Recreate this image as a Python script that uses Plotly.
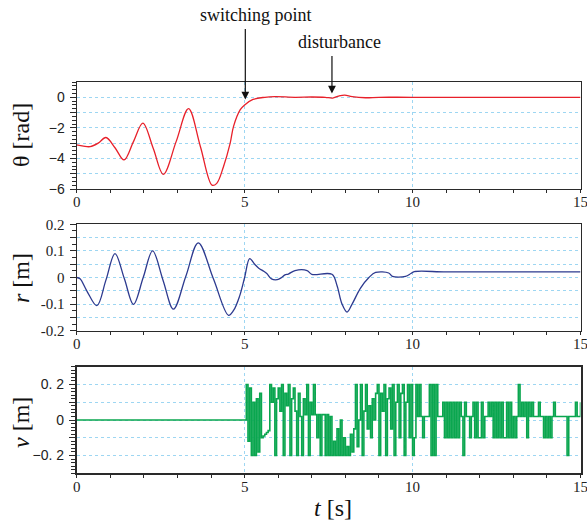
import plotly.graph_objects as go

# ---------------- data ----------------
theta_t = [0, 0.2, 0.4, 0.64, 0.87, 1.14, 1.41, 1.69, 1.97, 2.28, 2.58, 2.96, 3.33, 3.68, 4.03,
           4.17, 4.37, 4.57, 4.67, 4.87, 5.0, 5.25, 5.6, 5.9, 6.5, 7.0, 7.4, 7.62, 7.8, 7.98,
           8.2, 8.6, 9.0, 10.0, 15.0]
theta = [-3.12, -3.2, -3.23, -3.0, -2.63, -3.3, -4.1, -2.9, -1.69, -3.35, -5.04, -2.9, -0.74, -3.2, -5.75,
         -5.63, -4.54, -3.0, -1.9, -0.81, -0.5, -0.14, 0.0, 0.04, 0.0, 0.02, 0.0, -0.05, 0.08, 0.14,
         0.04, -0.03, 0.0, 0.0, 0.0]

r_t = [0, 0.1, 0.3, 0.6, 0.87, 1.14, 1.42, 1.69, 1.98, 2.26, 2.57, 2.88, 3.25, 3.62, 4.07, 4.52,
       4.67, 4.85, 5.0, 5.15, 5.3, 5.42, 5.55, 5.66, 5.8, 5.97, 6.1, 6.2, 6.3, 6.5, 6.86, 7.0,
       7.6, 7.75, 7.9, 8.05, 8.2, 8.45, 8.7, 8.9, 9.29, 9.4, 9.79, 9.95, 10.05, 11.0, 13.0, 15.0]
r = [0, -0.005, -0.05, -0.106, -0.01, 0.09, -0.005, -0.101, 0.0, 0.1, -0.01, -0.119, 0.005, 0.13,
     -0.005, -0.142, -0.124, -0.07, 0.0, 0.071, 0.05, 0.035, 0.025, 0.015, -0.005, -0.008, 0.0,
     0.01, 0.013, 0.026, 0.026, 0.012, 0.012, -0.03, -0.1, -0.13, -0.1, -0.04, 0.0, 0.019, 0.017,
     0.004, 0.004, 0.015, 0.022, 0.021, 0.021, 0.021]

v_pre_t = [0.0, 5.0]
v_pre = [0.0, 0.0]
v_dt = 0.05
v_start = 5.05
v_noisy = [
    0.20, -0.12, 0.18, -0.20, 0.10, -0.20, 0.12, -0.18, 0.15, -0.10,
    -0.09, -0.08, -0.07, -0.06, 0.20, 0.10, 0.18, -0.20, 0.12, 0.18,
    0.05, 0.20, -0.20, 0.15, 0.08, 0.20, -0.20, 0.12, 0.18, 0.05,
    -0.20, 0.15, 0.02, -0.20, 0.12, 0.03, 0.20, -0.20, 0.10, 0.03,
    0.20, 0.03, -0.10, 0.03, -0.20, 0.03, 0.03, -0.20, 0.03, -0.20,
    0.02, -0.20, -0.12, -0.20, -0.05, -0.20, 0.00, -0.20, -0.10, -0.20,
    -0.15, -0.20, -0.08, -0.18, -0.05, 0.20, -0.15, 0.00, 0.20, -0.20,
    0.05, 0.20, -0.05, 0.08, -0.10, 0.12, 0.00, 0.15, 0.20, -0.20,
    0.15, 0.05, 0.20, -0.20, 0.12, 0.18, -0.05, 0.20, -0.20, 0.10,
    0.20, -0.10, 0.15, 0.20, -0.20, 0.10, 0.20, -0.10, 0.20, -0.20,
    -0.10, 0.20, 0.02, 0.20, 0.02, -0.10, 0.02, 0.02, 0.02, 0.20,
    -0.20, 0.20, -0.20, 0.20, 0.02, 0.02, 0.02, 0.10, -0.10, 0.10,
    -0.10, 0.10, -0.10, 0.10, -0.10, 0.10, -0.10, 0.10, 0.02, -0.20,
    0.10, 0.02, 0.02, -0.10, 0.02, 0.10, -0.10, 0.10, -0.10, -0.10,
    0.10, -0.10, 0.02, 0.02, 0.10, 0.02, 0.10, -0.10, 0.10, -0.10,
    0.10, -0.10, 0.10, -0.10, -0.10, 0.10, -0.10, 0.10, -0.10, 0.02,
    -0.10, 0.02, 0.20, 0.02, 0.10, 0.02, 0.10, -0.10, 0.10, 0.02,
    0.10, 0.02, 0.02, 0.02, 0.10, 0.02, 0.02, -0.10, 0.02, -0.10,
    0.02, -0.10, 0.02, 0.10, 0.02, 0.02, 0.02, 0.02, 0.02, 0.02,
    0.02, -0.20, 0.02, 0.02, 0.02, 0.02, 0.10, 0.02, 0.02, 0.10,
]
v_t = v_pre_t + [round(v_start + v_dt * i, 4) for i in range(len(v_noisy))]
v = v_pre + v_noisy

x_tickvals = [0, 5, 10, 15]
x_ticktext = ["0", "5", "10", "15"]
th_tickvals = [-6, -5, -4, -3, -2, -1, 0]
th_ticktext = ["\u22126", "", "\u22124", "", "\u22122", "", "0"]
r_tickvals = [-0.2, -0.15, -0.1, -0.05, 0, 0.05, 0.1, 0.15, 0.2]
r_ticktext = ["-0.2", "", "-0.1", "", "0", "", "0.1", "", "0.2"]
v_tickvals = [-0.2, -0.1, 0, 0.1, 0.2]
v_ticktext = ["\u22120. 2", "", "0", "", "0. 2"]

# ---------------- figure ----------------
W, H = 587, 522
SERIF = "Liberation Serif"
SANS = "Liberation Sans"
GRID = "#9dd6f2"
AX = "#2a2a2a"

def px_x(p):
    return p / W

def px_y(p):
    return (H - p) / H

fig = go.Figure()
fig.add_trace(go.Scatter(x=theta_t, y=theta, mode="lines", line=dict(color="#e8202a", width=1.3, shape="spline", smoothing=1.0), xaxis="x", yaxis="y"))
fig.add_trace(go.Scatter(x=r_t, y=r, mode="lines", line=dict(color="#2d3a8f", width=1.3, shape="spline", smoothing=1.0), xaxis="x2", yaxis="y2"))
fig.add_trace(go.Scatter(x=v_t, y=v, mode="lines", line=dict(color="#0aa64f", width=1.6, shape="hv"), xaxis="x3", yaxis="y3"))

xdom = [px_x(76.7), px_x(580.5)]
doms = [[px_y(189), px_y(82)], [px_y(330.7), px_y(224.3)], [px_y(473.3), px_y(366.7)]]

def xaxis(anchor, lw=1.2):
    return dict(domain=xdom, anchor=anchor, range=[0, 15], tickmode="array", tickvals=x_tickvals,
                ticktext=x_ticktext, ticks="outside", ticklen=3, tickcolor=AX, automargin=False,
                minor=dict(ticks="outside", dtick=1, ticklen=3, tickcolor=AX, showgrid=False),
                showline=True, linecolor=AX, linewidth=lw, mirror=True, ticklabeloverflow="allow",
                showgrid=True, gridcolor=GRID, griddash="dot", gridwidth=1, zeroline=False,
                tickfont=dict(family=SERIF, size=15, color="#222"), ticklabelstandoff=-4)

def yaxis(anchor, dom, rng, tv, tt, mdt, font, size, lw=1.2):
    return dict(domain=dom, anchor=anchor, range=rng, tickmode="array", tickvals=tv, ticktext=tt,
                ticks="outside", ticklen=6, tickcolor=AX, automargin=False,
                minor=dict(ticks="outside", dtick=mdt, ticklen=4, tickcolor=AX, showgrid=False),
                showline=True, linecolor=AX, linewidth=lw, mirror=True, ticklabeloverflow="allow",
                showgrid=True, gridcolor=GRID, griddash="dot", gridwidth=1, zeroline=False,
                tickfont=dict(family=font, size=size, color="#222"), ticklabelstandoff=2)

fig.update_layout(
    width=W, height=H, margin=dict(l=0, r=0, t=0, b=0, autoexpand=False),
    paper_bgcolor="white", plot_bgcolor="white", showlegend=False,
    xaxis=xaxis("y"),
    xaxis2=xaxis("y2"),
    xaxis3=xaxis("y3", lw=1.6),
    yaxis=yaxis("x", doms[0], [-6, 1], th_tickvals, th_ticktext, 0.25, SANS, 14),
    yaxis2=yaxis("x2", doms[1], [-0.2, 0.2], r_tickvals, r_ticktext, 0.025, SERIF, 15),
    yaxis3=yaxis("x3", doms[2], [-0.3, 0.3], v_tickvals, v_ticktext, 0.02, SANS, 14, lw=1.6),
)

ann = []
def title(text, x, y, angle=-90):
    ann.append(dict(text=text, xref="paper", yref="paper", x=px_x(x), y=px_y(y), showarrow=False,
                    textangle=angle, font=dict(family=SERIF, size=24, color="#111"),
                    xanchor="center", yanchor="middle"))

title("\u03b8 [rad]", 21, 135)
title("<i>r</i> [m]", 21, 278)
title("<i>v</i> [m]", 21, 423)
title("<i>t</i> [s]", 333, 508, angle=0)

ann.append(dict(text="switching point", xref="paper", yref="paper", x=px_x(256), y=px_y(15), showarrow=False,
                font=dict(family=SERIF, size=18, color="#111"), xanchor="center", yanchor="middle"))
ann.append(dict(text="disturbance", xref="paper", yref="paper", x=px_x(339), y=px_y(42), showarrow=False,
                font=dict(family=SERIF, size=18, color="#111"), xanchor="center", yanchor="middle"))
ann.append(dict(text="", x=5.02, y=-0.15, xref="x", yref="y", ax=0, ay=-72, showarrow=True,
                arrowhead=2, arrowsize=1.3, arrowwidth=1.2, arrowcolor="#111", standoff=0))
ann.append(dict(text="", x=7.6, y=0.24, xref="x", yref="y", ax=0, ay=-39, showarrow=True,
                arrowhead=2, arrowsize=1.3, arrowwidth=1.2, arrowcolor="#111", standoff=0))
fig.update_layout(annotations=ann)

fig.write_html("out.html", config={"displayModeBar": False},
               post_script="document.body.style.margin='0';document.body.style.overflow='hidden';")
